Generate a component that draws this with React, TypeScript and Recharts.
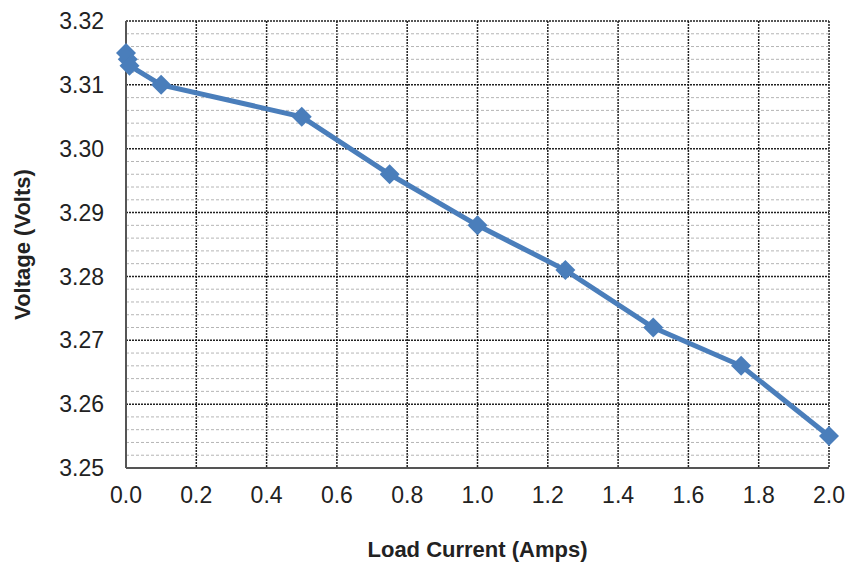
import React from 'react';
import { LineChart, Line, XAxis, YAxis, CartesianGrid, ReferenceLine } from 'recharts';

const currentAmps = [0, 0.005, 0.01, 0.1, 0.5, 0.75, 1.0, 1.25, 1.5, 1.75, 2.0];
const voltageVolts = [3.315, 3.314, 3.313, 3.31, 3.305, 3.296, 3.288, 3.281, 3.272, 3.266, 3.255];
const xTicks = [0, 0.2, 0.4, 0.6, 0.8, 1.0, 1.2, 1.4, 1.6, 1.8, 2.0];
const yTicks = [3.25, 3.26, 3.27, 3.28, 3.29, 3.3, 3.31, 3.32];
const yMinorTicks = [
  3.252, 3.254, 3.256, 3.258, 3.262, 3.264, 3.266, 3.268,
  3.272, 3.274, 3.276, 3.278, 3.282, 3.284, 3.286, 3.288,
  3.292, 3.294, 3.296, 3.298, 3.302, 3.304, 3.306, 3.308,
  3.312, 3.314, 3.316, 3.318,
];

const data = currentAmps.map((x, i) => ({ x, v: voltageVolts[i] }));

const BLUE = '#4a7ebb';

const Diamond = (props: any) => {
  const { cx, cy } = props;
  if (cx == null || cy == null) return null;
  const r = 10;
  return <polygon points={`${cx},${cy - r} ${cx + r},${cy} ${cx},${cy + r} ${cx - r},${cy}`} fill={BLUE} />;
};

const YTitle = (props: any) => {
  const { viewBox } = props;
  const x = viewBox.x + 22;
  const y = viewBox.y + viewBox.height / 2;
  return (
    <text x={x} y={y} transform={`rotate(-90, ${x}, ${y})`} textAnchor="middle" dominantBaseline="central"
      fontSize={22} fontWeight="bold" fill="#222">
      Voltage (Volts)
    </text>
  );
};

export default function App() {
  const font = 'Arial, "Liberation Sans", sans-serif';
  return (
    <div style={{ position: 'absolute', left: 0, top: 0, width: 847, height: 563, background: '#fff', fontFamily: font }}>
      <LineChart width={847} height={563} data={data} margin={{ top: 21, right: 18, left: 0, bottom: 0 }}>
        {yMinorTicks.map(v => (
          <ReferenceLine key={v} y={v} stroke="#b5b5b5" strokeDasharray="3 2" strokeWidth={1} />
        ))}
        <CartesianGrid stroke="#222" strokeDasharray="2 1" strokeWidth={1.5} />
        <XAxis
          type="number"
          dataKey="x"
          domain={[0, 2]}
          ticks={xTicks}
          tickFormatter={(v: number) => v.toFixed(1)}
          interval={0}
          height={95}
          tickSize={0}
          tickMargin={19}
          axisLine={{ stroke: '#555', strokeWidth: 2 }}
          tick={{ fontSize: 23, fill: '#222', fontFamily: font }}
          label={{ value: 'Load Current (Amps)', position: 'insideBottom', offset: 6, fontSize: 22, fontWeight: 'bold', fill: '#222' }}
        />
        <YAxis
          type="number"
          domain={[3.25, 3.32]}
          ticks={yTicks}
          tickFormatter={(v: number) => v.toFixed(2)}
          interval={0}
          width={126}
          tickSize={0}
          tickMargin={22}
          axisLine={{ stroke: '#555', strokeWidth: 2 }}
          tick={{ fontSize: 23, fill: '#222', fontFamily: font }}
          label={<YTitle />}
        />
        <Line
          type="linear"
          dataKey="v"
          stroke={BLUE}
          strokeWidth={5}
          dot={<Diamond />}
          activeDot={false}
          isAnimationActive={false}
        />
      </LineChart>
    </div>
  );
}
